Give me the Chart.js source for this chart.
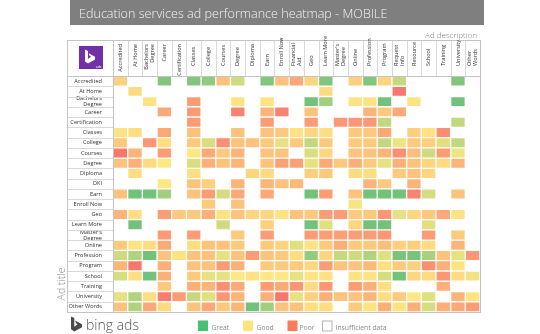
<!DOCTYPE html>
<html>
<head>
<meta charset="utf-8">
<script src="https://cdn.jsdelivr.net/npm/chart.js@4.4.1/dist/chart.umd.min.js"></script>
<style>
  html, body { margin: 0; padding: 0; background: #fff; }
</style>
</head>
<body>
<canvas id="heat" width="540" height="334"></canvas>
<script>
const _ = null;

const chartTitle = 'Education services ad performance heatmap - MOBILE';

// columns: ad description keywords
const adDescriptions = [
  'Accredited', 'At Home', 'Bachelors\nDegree', 'Career', 'Certification', 'Classes',
  'College', 'Courses', 'Degree', 'Diploma', 'Earn', 'Enroll Now', 'Financial\nAid',
  'Geo', 'Learn More', "Master's\nDegree", 'Online', 'Profession', 'Program',
  'Request\nInfo', 'Resource', 'School', 'Training', 'University', 'Other\nWords'
];

// rows: ad title keywords
const adTitles = [
  'Accredited', 'At Home', 'Bachelors\nDegree', 'Career', 'Certification', 'Classes',
  'College', 'Courses', 'Degree', 'Diploma', 'DKI', 'Earn', 'Enroll Now', 'Geo',
  'Learn More', "Master's\nDegree", 'Online', 'Profession', 'Program', 'School',
  'Training', 'University', 'Other Words'
];

// performance score 0 (poor) .. 5 (good) .. 10 (great), null = insufficient data
const scores = [
  [4, _, _, 9, _, 9, 8.5, 3.5, 6.5, _, 9, 3.5, 2.5, 4.2, 9, _, 4, 9, 4.2, 6.8, _, _, _, 9, _],
  [_, 4.5, _, _, _, _, _, _, _, _, _, _, _, _, 4.5, _, _, _, _, 0.5, _, _, _, _, _],
  [_, _, 4.8, _, _, 2, _, _, 4.8, _, 4.8, _, _, 9.5, 8, _, 4.8, 4.8, 9.5, _, 4.8, _, _, 9.5, _],
  [_, _, _, 2.5, _, 2, _, _, 1, _, 3, 1, _, 3.5, _, _, _, 3, 3.8, 2.5, _, _, _, _, _],
  [_, _, _, _, _, 2, _, _, _, _, 2, _, _, 2, _, 1.8, 1.8, 1.8, 7, _, _, _, _, 7, _],
  [4.8, 4.6, _, 2.5, _, 3.5, _, _, 3.5, _, 3.5, 3.8, 4.8, 4.3, 4.6, _, 3.8, 3.8, 2.5, _, 4, 4.8, 1.5, _, _],
  [3.8, _, 1.8, 4.6, _, 3.8, 6.2, 1.5, 3.5, 3.5, 3.8, 5.8, 3.8, 7, 3.8, _, 3.8, 3.8, 7, 5.5, 3.8, 4, 6, 7, _],
  [0.5, 3, _, 2, _, 5, 2.5, 3.8, 3, _, 3.5, 3.5, _, 6.2, 4.3, _, 3.5, 3.5, 3, 1.5, 3.3, 6.5, 2, 5.5, _],
  [3.5, 2.8, 4.5, 5, _, 6.2, 2.8, 3.5, 3, _, 3.5, 2.2, 2.2, 5.8, 2.5, 3.8, 2.8, 3.8, 5.8, 2.8, 3.5, 4.3, 4.5, 3, _],
  [_, 4.6, _, _, _, 4.6, _, _, _, 4.3, 4.5, _, _, 4, 3.8, _, 4.5, 4.6, _, 3.8, 3.5, 4.3, _, _, _],
  [_, _, _, 5, _, 3.5, 4, _, 3, _, 3, 3.5, 3.2, _, _, _, _, 3, 3.8, _, 3, _, _, _, _],
  [3.5, 9.5, 9.5, 8, _, 3.5, 2, 6.3, 2.5, _, 2.5, _, _, 9.5, 2, _, 3.5, 9.5, 9.5, 9.5, 1, 6.3, _, 3.5, _],
  [_, _, _, _, _, _, 3.8, _, 3.5, _, _, _, _, _, _, _, 5.3, _, _, _, _, _, _, _, _],
  [3, 4.6, _, 2, 3.8, 3.8, 2.8, 4.8, 3.5, 4.3, 4.3, 4.8, 3.5, 3.8, 2, 2, 3.8, 3.8, 1.8, 5.8, 4.3, 3.8, 2.5, 4.8, _],
  [_, 9.5, _, _, _, _, _, 6.5, _, _, 4, _, _, 9.5, 6, _, 4.3, 9.5, 9.5, _, _, 6, _, _, _],
  [_, _, _, 2, _, 2, _, _, 3.8, _, 2, _, _, 2, 2, 2.2, 2, 2, 1.8, _, _, 2, _, 3.8, _],
  [3.8, 4.8, 4.6, 2.5, _, 4.6, 3.5, 3.5, 3.8, _, 3.8, 4.2, 6, 4.8, 3.8, 2.8, 3.8, 3.8, 3.3, 4, 4, 4.5, _, 3, _],
  [6.5, 7.5, 9.5, 3.5, 4.8, 3.5, 3.5, 5.8, 3.5, 2, 3.5, 3.8, 4.6, 8.5, 4.3, 6.8, 6.5, 7.5, 6, 9.3, 9.3, 7.8, 3.5, 5.8, 1.8],
  [3, 0.5, _, 2.8, _, 3.5, 3.5, 2, 2.8, _, 3.8, 3.8, 3.8, 4.3, 2, 3.5, 3.5, 3.2, 4.6, 3.8, 4, 1.5, 2.8, 4.8, _],
  [6.3, 4.6, 9.5, 2.8, _, 3.8, 5.8, 5.8, 5, 4.8, 5, 5, 5.8, 4.8, 4.8, _, 4.8, 4.8, 6.3, 9.5, 4.3, 4.5, 1.8, 4.5, 5.5],
  [_, _, _, 3.8, _, 2.8, 3, 1.5, 2.5, _, 2, 2.5, 1.8, 4.5, 1.8, _, 2, 2.8, 4.6, _, _, _, 2.8, _, _],
  [5.8, 7.5, 4.6, 0.8, 2, 6.8, 6, 1.8, 3, _, 2.8, 0.5, 5.8, 4, 2.8, 3.5, 3.5, 3, 4.6, 3.8, 5, 6, _, 3, 4.8],
  [3.5, 7.5, 2.5, 4.5, _, 3.5, 2.5, 3.8, 3, 9.5, 8, 3.5, 3.5, 4.6, 4.6, _, 3.8, 4.8, 2.8, 4.8, 2.8, 6.3, 2.8, 2.5, 2]
];

const legendLabels = ['Great', 'Good', 'Poor', 'Insufficient data'];
const legendColors = ['#45c074', '#ffe47c', '#fb7b58', '#ffffff'];

const FONT = '"Open Sans", "Noto Sans", sans-serif';
const lineColor = '#d9d9d9';
const frameColor = '#c4c4c4';

// excel style 3 colour scale: red -> yellow -> green
function heatColor(v) {
  const red = [248, 105, 107], yellow = [255, 232, 131], green = [99, 190, 123];
  let a = red, b = yellow, t = v / 5;
  if (v > 5) { a = yellow; b = green; t = (v - 5) / 5; }
  const c = a.map((x, i) => Math.round(x + (b[i] - x) * t));
  return `rgb(${c.join(',')})`;
}

const datasets = adTitles.map((title, r) => ({
  label: title.replace('\n', ' '),
  xAxisID: 'x',
  yAxisID: 'y',
  data: scores[r].map(v => v == null ? null : [r, r + 1]),
  backgroundColor: scores[r].map(v => v == null ? 'rgba(0,0,0,0)' : heatColor(v)),
  borderColor: 'rgba(255,255,255,0.5)',
  borderWidth: 1,
  borderSkipped: false
}));

function drawBingMark(ctx, x, y, w, h, color) {
  const pts = [[0, 0], [0.3, 0.1], [0.3, 0.68], [0.6, 0.52], [0.46, 0.45], [0.37, 0.27],
               [1, 0.52], [1, 0.72], [0.3, 1], [0, 0.85]];
  ctx.fillStyle = color;
  ctx.beginPath();
  pts.forEach(([px, py], i) => {
    const X = x + px * w, Y = y + py * h;
    i ? ctx.lineTo(X, Y) : ctx.moveTo(X, Y);
  });
  ctx.closePath();
  ctx.fill();
}

const tableFrame = {
  id: 'tableFrame',
  beforeDraw(chart) {
    const { ctx } = chart;
    ctx.save();
    ctx.fillStyle = '#fff';
    ctx.fillRect(0, 0, chart.width, chart.height);
    // title bar
    ctx.fillStyle = '#7f7f7f';
    ctx.fillRect(70, 0, 414, 25);
    ctx.fillStyle = '#f4f4f4';
    ctx.font = `300 12.6px ${FONT}`;
    ctx.textBaseline = 'alphabetic';
    ctx.textAlign = 'left';
    ctx.fillText(chartTitle, 79, 17.5);
    // axis captions
    ctx.fillStyle = '#7a7a7a';
    ctx.font = `300 8px ${FONT}`;
    ctx.textAlign = 'right';
    ctx.fillText('Ad description', 477, 37.5);
    ctx.save();
    ctx.translate(65, 284);
    ctx.rotate(-Math.PI / 2);
    ctx.textAlign = 'center';
    ctx.font = `300 10.5px ${FONT}`;
    ctx.fillStyle = '#8a8a8a';
    ctx.fillText('Ad title', 0, 0);
    ctx.restore();
    ctx.restore();
  },
  afterDraw(chart) {
    const { ctx, chartArea: ca } = chart;
    const xs = chart.scales.x, ys = chart.scales.y;
    const left = 67, top = 40;
    const colW = (ca.right - ca.left) / adDescriptions.length;
    const crisp = v => Math.round(v) + 0.5;
    ctx.save();
    ctx.lineWidth = 1;
    ctx.strokeStyle = lineColor;
    ctx.beginPath();
    // header column separators
    for (let c = 0; c <= adDescriptions.length; c++) {
      const x = crisp(ca.left + c * colW);
      ctx.moveTo(x, top); ctx.lineTo(x, ca.top);
    }
    // row label separators
    for (let r = 1; r < adTitles.length; r++) {
      const y = crisp(ys.getPixelForValue(r));
      ctx.moveTo(left, y); ctx.lineTo(ca.left, y);
    }
    ctx.stroke();
    ctx.strokeStyle = frameColor;
    ctx.beginPath();
    ctx.moveTo(left, crisp(ca.top)); ctx.lineTo(ca.right, crisp(ca.top));
    ctx.moveTo(crisp(ca.left), top); ctx.lineTo(crisp(ca.left), ca.bottom);
    ctx.stroke();
    ctx.strokeRect(crisp(left), crisp(top), Math.round(ca.right) - left, Math.round(ca.bottom) - top);

    // column headers, rotated
    ctx.fillStyle = '#333';
    ctx.font = `5.6px ${FONT}`;
    ctx.textBaseline = 'middle';
    adDescriptions.forEach((label, c) => {
      const lines = label.split('\n');
      const x = xs.getPixelForValue(c);
      const topAligned = c < 5;
      ctx.save();
      ctx.translate(x, topAligned ? 44 : 66);
      ctx.rotate(-Math.PI / 2);
      ctx.textAlign = topAligned ? 'right' : 'left';
      lines.forEach((ln, i) => ctx.fillText(ln, 0, (i - (lines.length - 1) / 2) * 6));
      ctx.restore();
    });

    // logo tile in the corner cell
    ctx.fillStyle = '#7230a6';
    ctx.fillRect(79, 46, 24, 23);
    drawBingMark(ctx, 85, 49.5, 10, 14, '#fff');
    ctx.fillStyle = '#fff';
    ctx.font = `3.5px ${FONT}`;
    ctx.textAlign = 'right';
    ctx.textBaseline = 'alphabetic';
    ctx.fillText('ads', 101.5, 67.5);

    // bing ads footer
    drawBingMark(ctx, 71, 316.5, 11, 15, '#4a4a4a');
    ctx.fillStyle = '#555';
    ctx.font = `300 14px ${FONT}`;
    ctx.textAlign = 'left';
    ctx.fillText('bing ads', 86, 330);

    // legend
    const legendX = [198, 243, 287.5, 322];
    ctx.font = `6.8px ${FONT}`;
    legendLabels.forEach((lab, i) => {
      const x = legendX[i];
      ctx.fillStyle = legendColors[i];
      ctx.fillRect(x, 320.5, 10, 10.5);
      if (i === 3) {
        ctx.strokeStyle = '#b5b5b5';
        ctx.strokeRect(x + 0.5, 321, 9.5, 10);
      }
      ctx.fillStyle = '#8c8c8c';
      ctx.fillText(lab, x + (i === 2 ? 12 : 13.5), 329.5);
    });
    ctx.restore();
  }
};

new Chart(document.getElementById('heat'), {
  type: 'bar',
  data: { labels: adDescriptions, datasets },
  options: {
    responsive: false,
    animation: false,
    events: [],
    layout: { padding: { left: 67, top: 76, right: 60, bottom: 22 } },
    datasets: { bar: { grouped: false, barPercentage: 1, categoryPercentage: 1 } },
    plugins: { legend: { display: false }, tooltip: { enabled: false }, title: { display: false } },
    scales: {
      x: { type: 'category', display: false, offset: true },
      y: { type: 'linear', min: 0, max: adTitles.length, reverse: true, display: false },
      rows: {
        type: 'category',
        labels: adTitles,
        position: 'left',
        offset: true,
        grid: { display: false },
        border: { display: false },
        ticks: {
          autoSkip: false,
          padding: 3,
          color: '#333',
          font: { family: FONT, size: 5.6, lineHeight: 1.05 },
          callback: (v, i) => adTitles[i].split('\n')
        },
        afterFit: axis => { axis.width = 46; }
      }
    }
  },
  plugins: [tableFrame]
});
</script>
</body>
</html>
